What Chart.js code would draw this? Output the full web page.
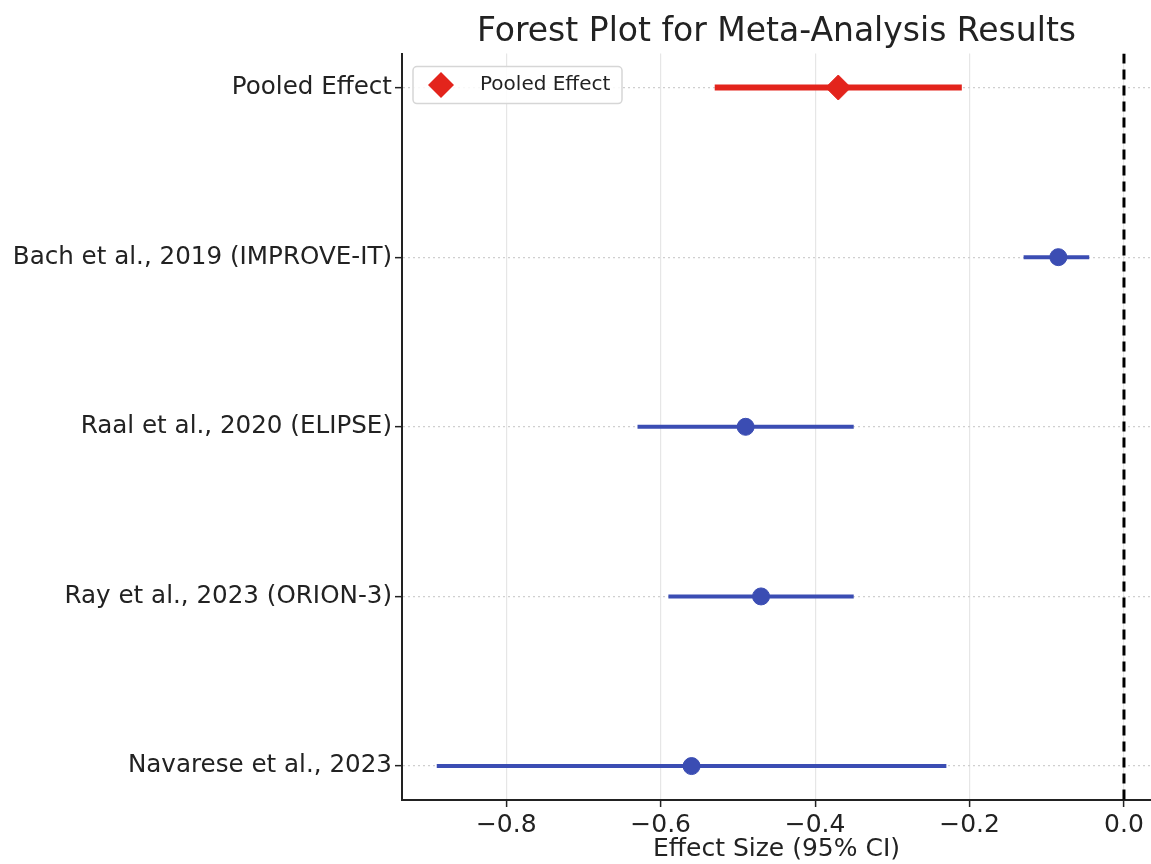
<!DOCTYPE html>
<html>
<head>
<meta charset="utf-8">
<script src="https://cdn.jsdelivr.net/npm/chart.js@4/dist/chart.umd.min.js"></script>
<style>
  html, body { margin: 0; background: #fff; overflow: hidden; }
  canvas { display: block; }
</style>
</head>
<body>
<canvas id="myChart" width="1151" height="864"></canvas>
<script>
const studies = [
  "Pooled Effect",
  "Bach et al., 2019 (IMPROVE-IT)",
  "Raal et al., 2020 (ELIPSE)",
  "Ray et al., 2023 (ORION-3)",
  "Navarese et al., 2023"
];
const effects = [-0.37, -0.085, -0.49, -0.47, -0.56];
const lows = [-0.53, -0.13, -0.63, -0.59, -0.89];
const highs = [-0.21, -0.045, -0.35, -0.35, -0.23];
const xTicks = [-0.8, -0.6, -0.4, -0.2, 0.0];
const refLine = 0;

const RED = "#e3241c";
const BLUE = "#3b4db3";
const FONT = "'DejaVu Sans', sans-serif";

const datasets = [];

// pooled diamond
datasets.push({
  type: "scatter",
  label: "Pooled Effect",
  data: [{ x: effects[0], y: 0 }],
  pointStyle: "rectRot",
  pointRadius: 12.5,
  backgroundColor: RED,
  borderColor: RED,
  order: 0
});

// study points
datasets.push({
  type: "scatter",
  label: "Studies",
  data: effects.slice(1).map((e, i) => ({ x: e, y: i + 1 })),
  pointStyle: "circle",
  pointRadius: 8.5,
  backgroundColor: BLUE,
  borderColor: BLUE,
  order: 0
});

// confidence intervals
studies.forEach((s, i) => {
  datasets.push({
    type: "line",
    label: s + " CI",
    data: [{ x: lows[i], y: i }, { x: highs[i], y: i }],
    borderColor: i === 0 ? RED : BLUE,
    borderWidth: i === 0 ? 6 : 4,
    pointRadius: 0,
    order: 1
  });
});

// zero line
datasets.push({
  type: "line",
  label: "zero",
  data: [{ x: refLine, y: -0.2 }, { x: refLine, y: 4.2 }],
  borderColor: "#000",
  borderWidth: 3,
  borderDash: [10, 6],
  pointRadius: 0,
  order: 2
});

// stretch plot area to the right edge of the canvas (the reference is cropped there)
const stretchPlugin = {
  id: "stretchRight",
  afterLayout(chart) {
    const a = chart.chartArea;
    const dx = chart.width - a.right;
    if (dx <= 0) return;
    a.right += dx;
    a.width += dx;
    const x = chart.scales.x;
    x.right += dx;
    x.width += dx;
    x.configure();
    if (chart.titleBlock) {
      chart.titleBlock.right += dx;
      chart.titleBlock.width += dx;
    }
  }
};

const legendPlugin = {
  id: "insideLegend",
  afterDraw(chart) {
    const ctx = chart.ctx;
    const a = chart.chartArea;
    const x = a.left + 11, y = a.top + 13, w = 209, h = 37;
    ctx.save();
    ctx.fillStyle = "rgba(255,255,255,0.85)";
    ctx.strokeStyle = "#d6d6d6";
    ctx.lineWidth = 1.5;
    ctx.beginPath();
    ctx.roundRect(x, y, w, h, 4);
    ctx.fill();
    ctx.stroke();
    const cx = x + 28, cy = y + h / 2;
    ctx.fillStyle = RED;
    ctx.beginPath();
    ctx.moveTo(cx, cy - 13);
    ctx.lineTo(cx + 13, cy);
    ctx.lineTo(cx, cy + 13);
    ctx.lineTo(cx - 13, cy);
    ctx.closePath();
    ctx.fill();
    ctx.fillStyle = "#222";
    ctx.font = "20px " + FONT;
    ctx.textBaseline = "middle";
    ctx.fillText(studies[0], x + 67, cy);
    ctx.restore();
  }
};

const ctx = document.getElementById("myChart").getContext("2d");
const myChart = new Chart(ctx, {
  data: { datasets: datasets },
  plugins: [stretchPlugin, legendPlugin],
  options: {
    responsive: false,
    animation: false,
    layout: { padding: 0 },
    plugins: {
      legend: { display: false },
      tooltip: { enabled: false },
      title: {
        display: true,
        text: "Forest Plot for Meta-Analysis Results",
        fullSize: false,
        color: "#222",
        font: { family: FONT, size: 33, weight: "normal" },
        padding: { top: 13, bottom: 1 }
      }
    },
    scales: {
      x: {
        type: "linear",
        min: -0.935,
        max: 0.035,
        afterBuildTicks: (axis) => { axis.ticks = xTicks.map(v => ({ value: v })); },
        afterFit: (axis) => { axis.height = 64; },
        ticks: {
          color: "#222",
          font: { family: FONT, size: 25 },
          padding: 3,
          callback: (v) => (v < 0 ? "\u2212" : "") + Math.abs(v).toFixed(1)
        },
        grid: { color: "#e6e6e6", lineWidth: 1.2, tickColor: "#222", tickLength: 7, tickWidth: 1.5 },
        border: { color: "#222", width: 2 },
        title: {
          display: true,
          text: "Effect Size (95% CI)",
          color: "#222",
          font: { family: FONT, size: 25 },
          padding: { top: 0, bottom: 0 }
        }
      },
      y: {
        type: "linear",
        min: -0.2,
        max: 4.2,
        reverse: true,
        afterBuildTicks: (axis) => { axis.ticks = studies.map((s, i) => ({ value: i })); },
        afterFit: (axis) => { axis.width = 402; },
        ticks: {
          color: "#222",
          font: { family: FONT, size: 24.6 },
          padding: 3,
          callback: (v) => studies[v]
        },
        grid: { color: "#cfcfcf", lineWidth: 1.3, tickColor: "#222", tickLength: 7, tickWidth: 1.5, tickBorderDash: [] },
        border: { color: "#222", width: 2, dash: [2, 3] }
      }
    }
  }
});
</script>
</body>
</html>
